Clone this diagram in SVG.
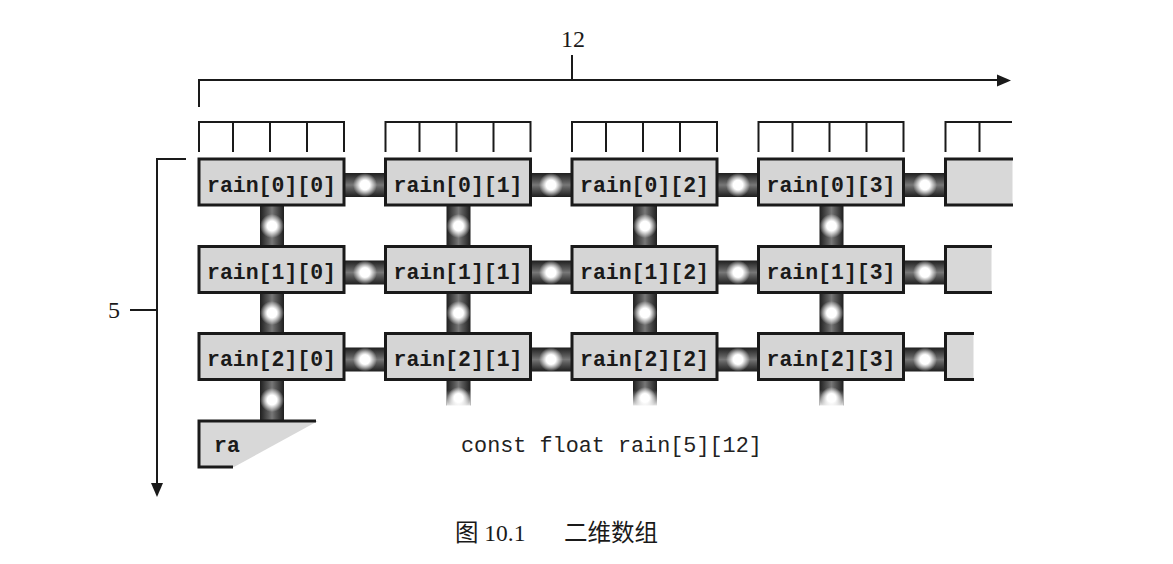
<svg xmlns="http://www.w3.org/2000/svg" width="1173" height="564" viewBox="0 0 1173 564">
<style>
.ln{stroke:#1a1a1a;stroke-width:2;fill:none}
.box{fill:#d5d5d5;stroke:#1a1a1a;stroke-width:3}
.pf{fill:#d8d8d8}
.pb{stroke:#1a1a1a;stroke-width:3;fill:none}
.lbl{font-family:"Liberation Mono",monospace;font-weight:bold;font-size:21.5px;fill:#1a1a1a;text-anchor:middle}
.code{font-family:"Liberation Mono",monospace;font-size:21.8px;fill:#222}
.num{font-family:"Liberation Serif","Noto Sans CJK SC",serif;font-size:24px;fill:#1a1a1a}
.hb{fill:url(#gh)}
.vb{fill:url(#gv)}
.glow{fill:url(#gg)}
</style>
<defs>
<linearGradient id="gh" x1="0" y1="0" x2="0" y2="1">
<stop offset="0" stop-color="#1e1e1e"/><stop offset="0.35" stop-color="#5a5a5a"/><stop offset="0.5" stop-color="#777"/><stop offset="0.65" stop-color="#5a5a5a"/><stop offset="1" stop-color="#1e1e1e"/>
</linearGradient>
<linearGradient id="gv" x1="0" y1="0" x2="1" y2="0">
<stop offset="0" stop-color="#1e1e1e"/><stop offset="0.35" stop-color="#5a5a5a"/><stop offset="0.5" stop-color="#777"/><stop offset="0.65" stop-color="#5a5a5a"/><stop offset="1" stop-color="#1e1e1e"/>
</linearGradient>
<radialGradient id="gg">
<stop offset="0" stop-color="#fff"/><stop offset="0.4" stop-color="#fff"/><stop offset="1" stop-color="#fff" stop-opacity="0"/>
</radialGradient>
<linearGradient id="fade" x1="0" y1="0" x2="0" y2="1">
<stop offset="0" stop-color="#fff" stop-opacity="0"/><stop offset="1" stop-color="#fff" stop-opacity="0.9"/>
</linearGradient>
</defs>

<g id="dim-cols">
<path class="ln" d="M199,107 V80 H1000"/>
<polygon points="1011,80.5 997,74.5 997,86.5" fill="#1a1a1a"/>
<path class="ln" d="M572,55 V80"/>
<text class="num" x="573" y="47" text-anchor="middle">12</text>
</g>

<g id="dim-rows">
<path class="ln" d="M186,159 H157 V485"/>
<polygon points="157,497 151,483 163,483" fill="#1a1a1a"/>
<path class="ln" d="M130,310 H157"/>
<text class="num" x="114" y="318" text-anchor="middle">5</text>
</g>

<g id="brackets">
<path class="ln" d="M199,152 V122 H344 V152 M233,122 V152 M270,122 V152 M307,122 V152"/>
<path class="ln" d="M385.5,152 V122 H530.5 V152 M419.5,122 V152 M456.5,122 V152 M493.5,122 V152"/>
<path class="ln" d="M572,152 V122 H717 V152 M606,122 V152 M643,122 V152 M680,122 V152"/>
<path class="ln" d="M758.5,152 V122 H903.5 V152 M792.5,122 V152 M829.5,122 V152 M866.5,122 V152"/>
<path class="ln" d="M945.5,152 V122 H1012 M979.5,122 V152"/>
</g>

<g id="connectors">
<rect class="hb" x="344" y="173" width="41.5" height="24"/><circle class="glow" cx="365" cy="185" r="12"/>
<rect class="hb" x="530.5" y="173" width="41.5" height="24"/><circle class="glow" cx="551" cy="185" r="12"/>
<rect class="hb" x="717" y="173" width="41.5" height="24"/><circle class="glow" cx="738" cy="185" r="12"/>
<rect class="hb" x="903.5" y="173" width="42" height="24"/><circle class="glow" cx="925" cy="185" r="12"/>
<rect class="hb" x="344" y="260.5" width="41.5" height="24"/><circle class="glow" cx="365" cy="272.5" r="12"/>
<rect class="hb" x="530.5" y="260.5" width="41.5" height="24"/><circle class="glow" cx="551" cy="272.5" r="12"/>
<rect class="hb" x="717" y="260.5" width="41.5" height="24"/><circle class="glow" cx="738" cy="272.5" r="12"/>
<rect class="hb" x="903.5" y="260.5" width="42" height="24"/><circle class="glow" cx="925" cy="272.5" r="12"/>
<rect class="hb" x="344" y="347.5" width="41.5" height="24"/><circle class="glow" cx="365" cy="359.5" r="12"/>
<rect class="hb" x="530.5" y="347.5" width="41.5" height="24"/><circle class="glow" cx="551" cy="359.5" r="12"/>
<rect class="hb" x="717" y="347.5" width="41.5" height="24"/><circle class="glow" cx="738" cy="359.5" r="12"/>
<rect class="hb" x="903.5" y="347.5" width="42" height="24"/><circle class="glow" cx="925" cy="359.5" r="12"/>
<rect class="vb" x="260" y="205" width="24" height="41.5"/><circle class="glow" cx="272" cy="226" r="12"/>
<rect class="vb" x="446.5" y="205" width="24" height="41.5"/><circle class="glow" cx="458.5" cy="226" r="12"/>
<rect class="vb" x="633" y="205" width="24" height="41.5"/><circle class="glow" cx="645" cy="226" r="12"/>
<rect class="vb" x="819.5" y="205" width="24" height="41.5"/><circle class="glow" cx="831.5" cy="226" r="12"/>
<rect class="vb" x="260" y="292.5" width="24" height="41"/><circle class="glow" cx="272" cy="313" r="12"/>
<rect class="vb" x="446.5" y="292.5" width="24" height="41"/><circle class="glow" cx="458.5" cy="313" r="12"/>
<rect class="vb" x="633" y="292.5" width="24" height="41"/><circle class="glow" cx="645" cy="313" r="12"/>
<rect class="vb" x="819.5" y="292.5" width="24" height="41"/><circle class="glow" cx="831.5" cy="313" r="12"/>
<rect class="vb" x="260" y="379.5" width="24" height="41.5"/><circle class="glow" cx="272" cy="400" r="12"/>
<rect class="vb" x="446.5" y="379.5" width="24" height="26"/><circle class="glow" cx="458.5" cy="398" r="11"/><rect x="446.5" y="390" width="24" height="16" fill="url(#fade)"/>
<rect class="vb" x="633" y="379.5" width="24" height="26"/><circle class="glow" cx="645" cy="398" r="11"/><rect x="633" y="390" width="24" height="16" fill="url(#fade)"/>
<rect class="vb" x="819.5" y="379.5" width="24" height="26"/><circle class="glow" cx="831.5" cy="398" r="11"/><rect x="819.5" y="390" width="24" height="16" fill="url(#fade)"/>
</g>

<g id="r0c0"><rect class="box" x="199" y="159" width="145" height="46"/><text class="lbl" x="271.5" y="191.5">rain[0][0]</text></g>
<g id="r0c1"><rect class="box" x="385.5" y="159" width="145" height="46"/><text class="lbl" x="458" y="191.5">rain[0][1]</text></g>
<g id="r0c2"><rect class="box" x="572" y="159" width="145" height="46"/><text class="lbl" x="644.5" y="191.5">rain[0][2]</text></g>
<g id="r0c3"><rect class="box" x="758.5" y="159" width="145" height="46"/><text class="lbl" x="831" y="191.5">rain[0][3]</text></g>
<g id="r0c4"><rect class="pf" x="945.5" y="159" width="67" height="46"/><path class="pb" d="M1013,159 H945.5 V205 H1013"/></g>

<g id="r1c0"><rect class="box" x="199" y="246.5" width="145" height="46"/><text class="lbl" x="271.5" y="279">rain[1][0]</text></g>
<g id="r1c1"><rect class="box" x="385.5" y="246.5" width="145" height="46"/><text class="lbl" x="458" y="279">rain[1][1]</text></g>
<g id="r1c2"><rect class="box" x="572" y="246.5" width="145" height="46"/><text class="lbl" x="644.5" y="279">rain[1][2]</text></g>
<g id="r1c3"><rect class="box" x="758.5" y="246.5" width="145" height="46"/><text class="lbl" x="831" y="279">rain[1][3]</text></g>
<g id="r1c4"><rect class="pf" x="945.5" y="246.5" width="46" height="46"/><path class="pb" d="M992,246.5 H945.5 V292.5 H992"/></g>

<g id="r2c0"><rect class="box" x="199" y="333.5" width="145" height="46"/><text class="lbl" x="271.5" y="366">rain[2][0]</text></g>
<g id="r2c1"><rect class="box" x="385.5" y="333.5" width="145" height="46"/><text class="lbl" x="458" y="366">rain[2][1]</text></g>
<g id="r2c2"><rect class="box" x="572" y="333.5" width="145" height="46"/><text class="lbl" x="644.5" y="366">rain[2][2]</text></g>
<g id="r2c3"><rect class="box" x="758.5" y="333.5" width="145" height="46"/><text class="lbl" x="831" y="366">rain[2][3]</text></g>
<g id="r2c4"><rect class="pf" x="945.5" y="333.5" width="28" height="46"/><path class="pb" d="M974,333.5 H945.5 V379.5 H974"/></g>

<g id="r3c0">
<polygon class="pf" points="199,421 318,421 234,467 199,467"/>
<path class="pb" d="M316,421 H199 V467 H233"/>
<text class="lbl" x="214" y="452" style="text-anchor:start">ra</text>
</g>

<g id="decl"><text class="code" x="461" y="452">const float rain[5][12]</text></g>

<g id="caption">
<text class="num" x="455" y="541" style="font-size:23.5px">图 10.1</text>
<text class="num" x="564" y="541" style="font-size:23.5px">二维数组</text>
</g>
</svg>
